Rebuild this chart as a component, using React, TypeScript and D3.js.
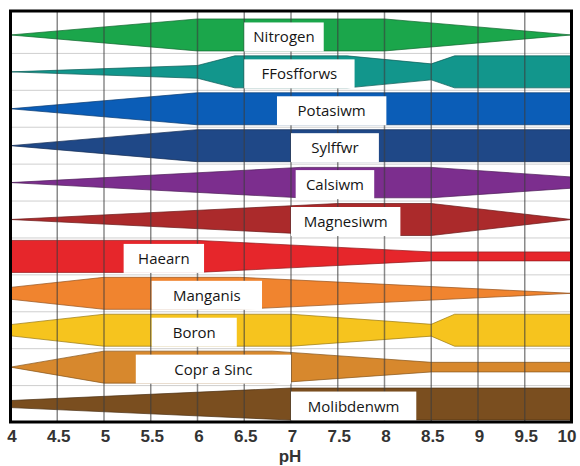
import React from "react";
import * as d3 from "d3";

// pH axis ticks
const phTicks = [4, 4.5, 5, 5.5, 6, 6.5, 7, 7.5, 8, 8.5, 9, 9.5, 10];

// nutrient rows (top to bottom)
const nutrients = [
  "Nitrogen",
  "FFosfforws",
  "Potasiwm",
  "Sylffwr",
  "Calsiwm",
  "Magnesiwm",
  "Haearn",
  "Manganis",
  "Boron",
  "Copr a Sinc",
  "Molibdenwm",
];

// availability profiles: [pH, relative availability 0..1]
const nitrogen = [[4, 0], [6, 1], [8, 1], [10, 0]];
const ffosfforws = [[4, 0], [6, 0.4], [6.4, 1], [7.6, 1], [8.5, 0.5], [8.75, 1], [10, 1]];
const potasiwm = [[4, 0], [6, 1], [10, 1]];
const sylffwr = [[4, 0], [6, 1], [10, 1]];
const calsiwm = [[4, 0], [7.1, 0.95], [8.5, 0.95], [10, 0.35]];
const magnesiwm = [[4, 0], [7.5, 1], [8.5, 1], [10, 0]];
const haearn = [[4, 1], [6, 1], [8.5, 0.28], [10, 0.28]];
const manganis = [[4, 0.37], [5, 1], [6.45, 1], [10, 0]];
const boron = [[4, 0.35], [5, 1], [7, 1], [8.5, 0.37], [8.75, 1], [10, 1]];
const coprASinc = [[4, 0], [5, 1], [6.8, 1], [8.5, 0.3], [10, 0.3]];
const molibdenwm = [[4, 0.22], [7, 1], [10, 1]];

const availability = [
  nitrogen, ffosfforws, potasiwm, sylffwr, calsiwm, magnesiwm,
  haearn, manganis, boron, coprASinc, molibdenwm,
];

// label boxes, as pH extents
const labelStart = [6.5, 6.5, 6.85, 7.0, 7.05, 7.0, 5.21, 5.51, 5.51, 5.34, 7.0];
const labelEnd = [7.35, 7.68, 8.02, 7.94, 7.89, 8.17, 6.07, 6.69, 6.42, 7.0, 8.34];

const colors = [
  "#1ba64b", "#12968c", "#0b5db7", "#1f4887", "#7c2e8e", "#ab2a2b",
  "#e6262b", "#f0842f", "#f6c41e", "#d7882d", "#7a4e1f",
];

const W = 580;
const H = 466;
const X0 = 10.5;
const X1 = 571.5;
const Y0 = 11;
const Y1 = 422;

export default function App() {
  const x = d3.scaleLinear().domain([4, 10]).range([X0, X1]);
  const y = d3.scaleBand<string>().domain(nutrients).range([16.5, 422.5]).paddingInner(0);
  const w = d3.scaleLinear().domain([0, 1]).range([0, 16]);
  const cy = (n: string) => (y(n) as number) + y.bandwidth() / 2;

  const areaFor = (n: string) =>
    d3
      .area<number[]>()
      .x((d) => x(d[0]))
      .y0((d) => cy(n) - w(d[1]))
      .y1((d) => cy(n) + w(d[1]))
      .curve(d3.curveLinear);

  const rowBounds = nutrients.slice(1).map((n) => y(n) as number);

  return (
    <svg
      width={W}
      height={H}
      style={{ position: "absolute", left: 0, top: 0, background: "#fff" }}
    >
      <rect x={0} y={0} width={W} height={H} fill="#fff" />
      {/* horizontal faint gridlines */}
      {rowBounds.map((yy, i) => (
        <line key={"h" + i} x1={X0} x2={X1} y1={yy} y2={yy} stroke="#cfcfcf" strokeWidth={1} />
      ))}
      {/* bands */}
      {nutrients.map((n, i) => (
        <path
          key={n}
          d={areaFor(n)(availability[i] as number[][]) || ""}
          fill={colors[i]}
          stroke={d3.color(colors[i])!.darker(1.3).toString()}
          strokeWidth={0.9}
          strokeOpacity={0.8}
        />
      ))}
      {/* vertical gridlines */}
      {phTicks.slice(1, -1).map((t) => (
        <line
          key={"v" + t}
          x1={x(t)}
          x2={x(t)}
          y1={Y0}
          y2={Y1}
          stroke="#3c3c3c"
          strokeOpacity={0.6}
          strokeWidth={1.5}
        />
      ))}
      {/* labels */}
      {nutrients.map((n, i) => {
        const xa = x(labelStart[i]);
        const xb = x(labelEnd[i]);
        const c = cy(n);
        return (
          <g key={"l" + n}>
            <rect x={xa} y={c - 12.5} width={xb - xa} height={29} fill="#fff" />
            <text
              x={(xa + xb) / 2}
              y={c + 7.5}
              textAnchor="middle"
              fontFamily="'Open Sans', sans-serif"
              fontSize={15}
              fill="#151515"
            >
              {n}
            </text>
          </g>
        );
      })}
      {/* frame */}
      <rect x={X0} y={Y0} width={X1 - X0} height={Y1 - Y0} fill="none" stroke="#000" strokeWidth={3} />
      {/* tick labels */}
      {phTicks.map((t) => (
        <text
          key={"t" + t}
          x={Math.min(x(t) + 1.5, 567)}
          y={442}
          textAnchor="middle"
          fontFamily="'Liberation Sans', Arial, sans-serif"
          fontWeight="bold"
          fontSize={17}
          fill="#333"
        >
          {t}
        </text>
      ))}
      <text
        x={290}
        y={461.5}
        textAnchor="middle"
        fontFamily="'Liberation Sans', Arial, sans-serif"
        fontWeight="bold"
        fontSize={17}
        fill="#333"
      >
        pH
      </text>
    </svg>
  );
}
